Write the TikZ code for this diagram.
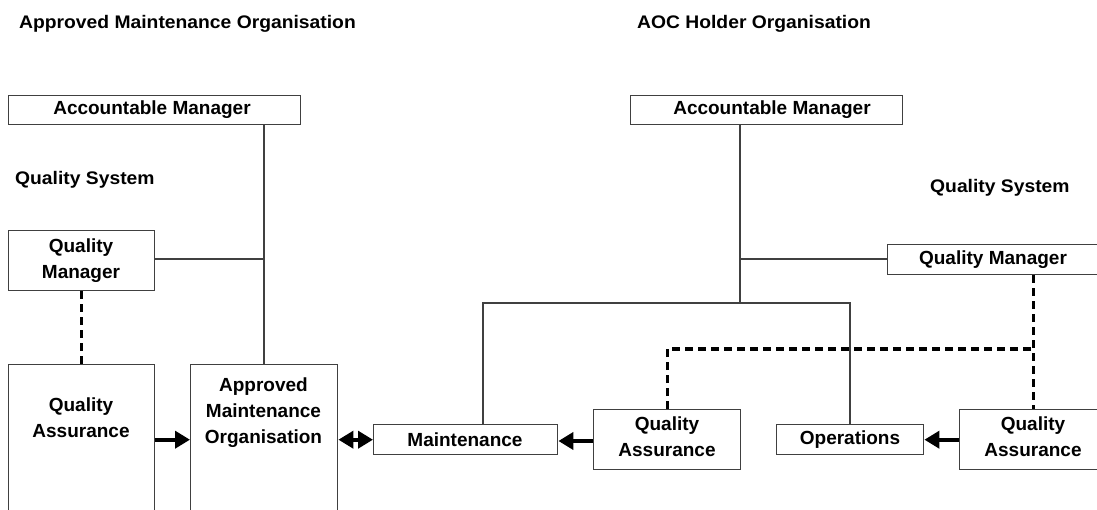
\documentclass[tikz,border=0pt]{standalone}
\usepackage{fontspec}
\setmainfont{Liberation Sans}
\newfontfamily\ttlfont{Liberation Sans}[FakeStretch=1.06]
\usetikzlibrary{arrows.meta}
\definecolor{ln}{HTML}{404040}
\tikzset{
  box/.style={draw=ln, line width=1.4pt, rectangle, inner sep=0pt, anchor=north west},
  txt/.style={font=\fontsize{19}{26}\selectfont\bfseries, align=center, inner sep=0pt},
  ttl/.style={font=\ttlfont\fontsize{18.2}{22}\selectfont\bfseries, anchor=west, inner sep=0pt},
  thin/.style={draw=ln, line width=1.3pt},
  dsh/.style={draw=black, line width=3pt, dash pattern=on 8pt off 5pt},
  arr/.style={draw=black, line width=4pt, -{Triangle[length=15pt,width=17pt]}},
  darr/.style={draw=black, line width=4pt, {Triangle[length=15pt,width=17pt]}-{Triangle[length=15pt,width=17pt]}},
}
\begin{document}
\begin{tikzpicture}[x=1pt,y=-1pt]
\useasboundingbox[fill=white] (0,0) rectangle (1097,510);
% titles
\node[ttl] (t1) at (19,24) {Approved Maintenance Organisation};
\node[ttl] (t2) at (637,24) {AOC Holder Organisation};
\node[ttl] (qs1) at (15,180) {Quality System};
\node[ttl] (qs2) at (930,188) {Quality System};
% left boxes
\node[box, minimum width=292pt, minimum height=29pt] (amL) at (8,95) {};
\node[txt] (amLt) at (152,110) {Accountable Manager};
\node[box, minimum width=146pt, minimum height=60pt] (qmL) at (8,230) {};
\node[txt] (qmLt) at (81,261) {Quality\\Manager};
\node[box, minimum width=146pt, minimum height=176pt] (qaL) at (8,364) {};
\node[txt] (qaLt) at (81,417.5) {Quality\\Assurance};
\node[box, minimum width=147pt, minimum height=176pt] (amo) at (190,364) {};
\node[txt] (amot) at (263.5,413) {Approved\\Maintenance\\Organisation};
\node[box, minimum width=184pt, minimum height=30pt] (maint) at (373,424) {};
\node[txt] (maintt) at (465,440) {Maintenance};
% right boxes
\node[box, minimum width=272pt, minimum height=29pt] (amR) at (630,95) {};
\node[txt] (amRt) at (772,110) {Accountable Manager};
\node[box, minimum width=210pt, minimum height=30pt] (qmR) at (887,244) {};
\node[txt] (qmRt) at (993,260) {Quality Manager};
\node[box, minimum width=147pt, minimum height=60pt] (qaM) at (593,409) {};
\node[txt] (qaMt) at (667,437) {Quality\\Assurance};
\node[box, minimum width=147pt, minimum height=30pt] (ops) at (776,424) {};
\node[txt] (opst) at (850,440) {Operations};
\node[box, minimum width=150pt, minimum height=60pt] (qaR) at (959,409) {};
\node[txt] (qaRt) at (1033,437) {Quality\\Assurance};
% coordinates
\coordinate (jL) at (264,259);
\coordinate (hubR) at (740,303);
\coordinate (jR) at (740,259);
\coordinate (hL) at (483,303);
\coordinate (hR) at (850,303);
\coordinate (dQM) at (1033,349);
\coordinate (dL) at (667,349);
% left connectors
\draw[thin] (amL.south -| jL) -- (amo.north -| jL);
\draw[thin] (qmL.east |- jL) -- (jL);
\draw[dsh] (qmL.south -| qaLt) -- (qaL.north -| qaLt);
\draw[arr] (qaL.east |- maint.west) -- (amo.west |- maint.west);
\draw[darr] (amo.east |- maint.west) -- (maint.west);
% right connectors
\draw[thin] (amR.south -| hubR) -- (hubR);
\draw[thin] (qmR.west |- jR) -- (jR);
\draw[thin] (maint.north -| hL) -- (hL) -- (hR) -- (ops.north -| hR);
\draw[dsh] (qmR.south -| dQM) -- (qaR.north -| dQM);
\draw[dsh] (qaM.north -| dL) -- (dL) -- (dQM);
\draw[arr] (qaM.west |- 0,441) -- (maint.east |- 0,441);
\draw[arr] (qaR.west |- ops.east) -- (ops.east);
\end{tikzpicture}
\end{document}
